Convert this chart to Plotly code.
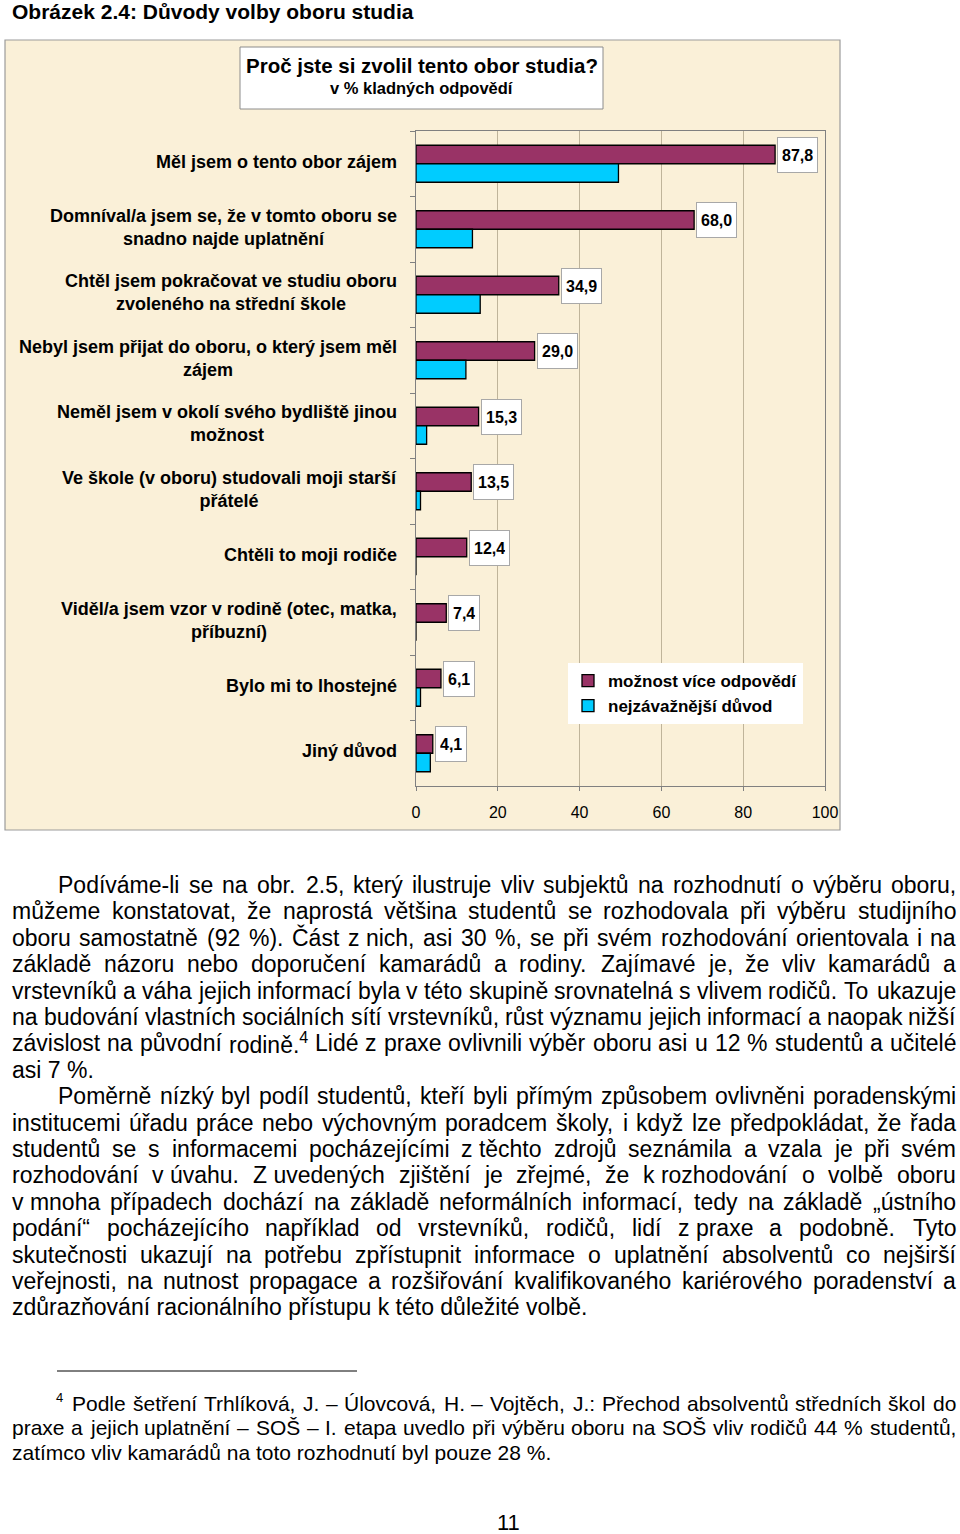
import unicodedata
import plotly.graph_objects as go

# ---------------- data ----------------
categories = [
    "Měl jsem o tento obor zájem",
    "Domníval/a jsem se, že v tomto oboru se snadno najde uplatnění",
    "Chtěl jsem pokračovat ve studiu oboru zvoleného na střední škole",
    "Nebyl jsem přijat do oboru, o který jsem měl zájem",
    "Neměl jsem v okolí svého bydliště jinou možnost",
    "Ve škole (v oboru) studovali moji starší přátelé",
    "Chtěli to moji rodiče",
    "Viděl/a jsem vzor v rodině (otec, matka, příbuzní)",
    "Bylo mi to lhostejné",
    "Jiný důvod",
]
category_labels = [
    "Měl jsem o tento obor zájem",
    "Domníval/a jsem se, že v tomto oboru se<br>snadno najde uplatnění",
    "Chtěl jsem pokračovat ve studiu oboru<br>zvoleného na střední škole",
    "Nebyl jsem přijat do oboru, o který jsem měl<br>zájem",
    "Neměl jsem v okolí svého bydliště jinou<br>možnost",
    "Ve škole (v oboru) studovali moji starší<br>přátelé",
    "Chtěli to moji rodiče",
    "Viděl/a jsem vzor v rodině (otec, matka,<br>příbuzní)",
    "Bylo mi to lhostejné",
    "Jiný důvod",
]
multi_answer = [87.8, 68.0, 34.9, 29.0, 15.3, 13.5, 12.4, 7.4, 6.1, 4.1]
main_reason = [49.5, 13.8, 15.7, 12.2, 2.6, 1.1, 0.0, 0.0, 1.1, 3.5]
series_names = ["možnost více odpovědí", "nejzávažnější důvod"]
x_ticks = [0, 20, 40, 60, 80, 100]

page_title = "Obrázek 2.4: Důvody volby oboru studia"
chart_title = "Proč jste si zvolil tento obor studia?"
chart_subtitle = "v % kladných odpovědí"

paragraph1 = [
    "Podíváme-li se na obr. 2.5, který ilustruje vliv subjektů na rozhodnutí o výběru oboru,",
    "můžeme konstatovat, že naprostá většina studentů se rozhodovala při výběru studijního",
    "oboru samostatně (92 %). Část z~nich, asi 30 %, se při svém rozhodování orientovala i na",
    "základě názoru nebo doporučení kamarádů a rodiny. Zajímavé je, že vliv kamarádů a",
    "vrstevníků a váha jejich informací byla v této skupině srovnatelná s vlivem rodičů. To ukazuje",
    "na budování vlastních sociálních sítí vrstevníků, růst významu jejich informací a naopak nižší",
    "závislost na původní rodině.^4 Lidé z praxe ovlivnili výběr oboru asi u 12 % studentů a učitelé",
    "asi 7 %.",
]
paragraph2 = [
    "Poměrně nízký byl podíl studentů, kteří byli přímým způsobem ovlivněni poradenskými",
    "institucemi úřadu práce nebo výchovným poradcem školy, i když lze předpokládat, že řada",
    "studentů se s informacemi pocházejícími z~těchto zdrojů seznámila a vzala je při svém",
    "rozhodování v~úvahu. Z~uvedených zjištění je zřejmé, že k~rozhodování o volbě oboru",
    "v~mnoha případech dochází na základě neformálních informací, tedy na základě „ústního",
    "podání“ pocházejícího například od vrstevníků, rodičů, lidí z~praxe a podobně. Tyto",
    "skutečnosti ukazují na potřebu zpřístupnit informace o uplatnění absolventů co nejširší",
    "veřejnosti, na nutnost propagace a rozšiřování kvalifikovaného kariérového poradenství a",
    "zdůrazňování racionálního přístupu k~této důležité volbě.",
]
footnote = [
    "Podle šetření Trhlíková, J. – Úlovcová, H. – Vojtěch, J.: Přechod absolventů středních škol do",
    "praxe a jejich uplatnění – SOŠ – I. etapa uvedlo při výběru oboru na SOŠ vliv rodičů 44 % studentů,",
    "zatímco vliv kamarádů na toto rozhodnutí byl pouze 28 %.",
]
footnote_mark = "4"
page_number = "11"

# ---------------- helpers ----------------
FONT = "Liberation Sans, Arial, sans-serif"
PAGE_W, PAGE_H = 960, 1534
PL, PR, PT, PB = 416, 825, 131, 786   # plot area, page pixels


def px_x(px):
    return (px - PL) / (PR - PL)


def px_y(py):
    return (PB - py) / (PB - PT)


ARIAL = {
    ' ': 278, '!': 278, '"': 355, '#': 556, '$': 556, '%': 889, '&': 667, "'": 191,
    '(': 333, ')': 333, '*': 389, '+': 584, ',': 278, '-': 333, '.': 278, '/': 278,
    ':': 278, ';': 278, '<': 584, '=': 584, '>': 584, '?': 556, '@': 1015,
    'A': 667, 'B': 667, 'C': 722, 'D': 722, 'E': 667, 'F': 611, 'G': 778, 'H': 722,
    'I': 278, 'J': 500, 'K': 667, 'L': 556, 'M': 833, 'N': 722, 'O': 778, 'P': 667,
    'Q': 778, 'R': 722, 'S': 667, 'T': 611, 'U': 722, 'V': 667, 'W': 944, 'X': 667,
    'Y': 667, 'Z': 611, '[': 278, ']': 278, 'a': 556, 'b': 556, 'c': 500, 'd': 556,
    'e': 556, 'f': 278, 'g': 556, 'h': 556, 'i': 222, 'j': 222, 'k': 500, 'l': 222,
    'm': 833, 'n': 556, 'o': 556, 'p': 556, 'q': 556, 'r': 333, 's': 500, 't': 278,
    'u': 556, 'v': 500, 'w': 722, 'x': 500, 'y': 500, 'z': 500,
    'í': 278, 'Í': 278, '–': 556, '„': 333, '“': 333, '”': 333,
}
for d in "0123456789":
    ARIAL[d] = 556


def char_w(ch):
    if ch in ARIAL:
        return ARIAL[ch]
    base = unicodedata.normalize("NFD", ch)[0]
    return ARIAL.get(base, 556)


def text_w(s, size):
    return sum(char_w(c) for c in s) * size / 1000.0


annotations = []


def word_ann(text, xpx, ypx, size, anchor="left"):
    annotations.append(dict(
        x=px_x(xpx), y=px_y(ypx), xref="paper", yref="paper", text=text,
        showarrow=False, xanchor=anchor, yanchor="middle", borderpad=0, borderwidth=0,
        font=dict(family=FONT, size=size, color="black")))


def rich(word):
    plain = word.replace("~", " ")
    if "^" in plain:
        a, b = plain.split("^")
        return a + "<sup>" + b + "</sup>", text_w(a, size_cur[0]) + 0.7 * text_w(b, size_cur[0])
    return plain, text_w(plain, size_cur[0])


size_cur = [23]


def layout_line(line, left, right, ypx, size, justify):
    size_cur[0] = size
    if not justify:
        word_ann(" ".join(rich(w)[0] for w in line.split(" ")), left, ypx, size)
        return
    items = [rich(w) for w in line.split(" ")]
    total = sum(w for _, w in items)
    n = len(items)
    gap = (right - left - total) / (n - 1)
    gap = max(gap, 0.15 * size)
    x = left
    for k, (t, w) in enumerate(items):
        if k == n - 1:
            word_ann(t, right, ypx, size, anchor="right")
        else:
            word_ann(t, x, ypx, size)
        x += w + gap


# ---------------- figure ----------------
fig = go.Figure()
fig.add_trace(go.Bar(
    y=categories, x=multi_answer, name=series_names[0], orientation="h",
    marker=dict(color="#993366", line=dict(color="black", width=1.3))))
fig.add_trace(go.Bar(
    y=categories, x=main_reason, name=series_names[1], orientation="h",
    marker=dict(color="#00CCFF", line=dict(color="black", width=1.3))))

# data labels
for c, v in zip(categories, multi_answer):
    annotations.append(dict(
        x=v, y=c, xref="x", yref="y", text=f"{v:.1f}".replace(".", ","),
        showarrow=False, xanchor="left", yanchor="middle", xshift=2, yshift=9,
        bgcolor="white", bordercolor="#A8A8A8", borderwidth=1, borderpad=4, height=26,
        font=dict(family=FONT, size=16, color="black", weight="bold")))

# category labels
for c, lab in zip(categories, category_labels):
    annotations.append(dict(
        x=px_x(399), y=c, xref="paper", yref="y", text=lab, showarrow=False,
        xanchor="right", yanchor="middle", align="center", yshift=2,
        font=dict(family=FONT, size=18, color="black", weight="bold")))

# titles
annotations.append(dict(x=px_x(12), y=px_y(12), xref="paper", yref="paper", text=page_title,
                        showarrow=False, xanchor="left", yanchor="middle", borderpad=0, borderwidth=0,
                        font=dict(family=FONT, size=21, color="black", weight="bold")))
annotations.append(dict(x=px_x(422), y=px_y(65), xref="paper", yref="paper", text=chart_title,
                        showarrow=False, xanchor="center", yanchor="middle",
                        font=dict(family=FONT, size=20.5, color="black", weight="bold")))
annotations.append(dict(x=px_x(422), y=px_y(88), xref="paper", yref="paper", text=chart_subtitle,
                        showarrow=False, xanchor="center", yanchor="middle",
                        font=dict(family=FONT, size=16.5, color="black", weight="bold")))

# body text
BODY = 23
LINE = 26.4
y0 = 885
left, right, indent = 12, 956, 58
row = 0
for para in (paragraph1, paragraph2):
    for i, line in enumerate(para):
        lx = indent if i == 0 else left
        layout_line(line, lx, right, y0 + row * LINE, BODY, justify=(i < len(para) - 1))
        row += 1

# footnote
FN = 21
fy0 = 1403
word_ann(footnote_mark, 56, fy0 - 6, 13)
for i, line in enumerate(footnote):
    lx = 72 if i == 0 else left
    layout_line(line, lx, right, fy0 + i * 24.5, FN, justify=(i < len(footnote) - 1))

annotations.append(dict(x=px_x(508), y=px_y(1522), xref="paper", yref="paper", text=page_number,
                        showarrow=False, xanchor="center", yanchor="middle",
                        font=dict(family=FONT, size=22, color="black")))

shapes = [
    dict(type="rect", xref="paper", yref="paper", x0=px_x(5), x1=px_x(840), y0=px_y(830), y1=px_y(40),
         fillcolor="#FAF0D8", line=dict(color="#9C9C9C", width=1.2), layer="below"),
    dict(type="rect", xref="paper", yref="paper", x0=px_x(240), x1=px_x(603), y0=px_y(109), y1=px_y(47),
         fillcolor="white", line=dict(color="#8C8C8C", width=1), layer="above"),
    dict(type="line", xref="paper", yref="paper", x0=px_x(57), x1=px_x(357), y0=px_y(1371), y1=px_y(1371),
         line=dict(color="black", width=1)),
]

fig.update_layout(
    width=PAGE_W, height=PAGE_H, autosize=False,
    margin=dict(l=PL, r=PAGE_W - PR, t=PT, b=PAGE_H - PB, pad=0),
    paper_bgcolor="white", plot_bgcolor="rgba(0,0,0,0)",
    barmode="group", bargap=0.435, bargroupgap=0,
    annotations=annotations, shapes=shapes,
    font=dict(family=FONT, color="black"),
    legend=dict(x=px_x(568), y=px_y(663), xref="paper", yref="paper", xanchor="left", yanchor="top",
                bgcolor="white", borderwidth=0, traceorder="normal",
                font=dict(family=FONT, size=17, color="black", weight="bold")),
    showlegend=True,
)
fig.update_xaxes(range=[0, 100], tickvals=x_ticks, ticktext=[str(t) for t in x_ticks],
                 showgrid=True, gridcolor="#BFB49A", gridwidth=1,
                 showline=True, linecolor="#808080", linewidth=1.3, mirror=True,
                 ticks="outside", ticklen=4, tickcolor="#808080", zeroline=False,
                 tickfont=dict(family=FONT, size=16, color="black"), ticklabelstandoff=8)
fig.update_yaxes(type="category", autorange="reversed", showticklabels=False,
                 showline=True, linecolor="#808080", linewidth=1.3, mirror=True,
                 ticks="outside", ticklen=5, tickcolor="#808080", tickson="boundaries",
                 showgrid=False, zeroline=False)

# remove the default 8px body margin of the page so the figure fills the window exactly
fig.write_html("out.html", config={"displayModeBar": False},
               post_script="document.body.style.margin='0px';")
